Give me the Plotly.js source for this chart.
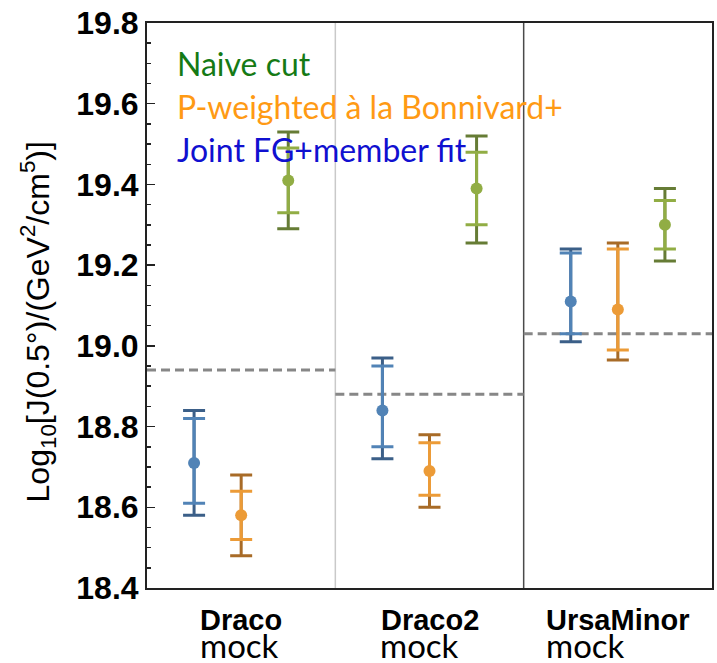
<!DOCTYPE html>
<html>
<head>
<meta charset="utf-8">
<script src="https://cdn.plot.ly/plotly-3.0.1.min.js"></script>
<style>
  html, body { margin: 0; padding: 0; background: #fff; }
  #chart { width: 717px; height: 663px; }
</style>
</head>
<body>
<div id="chart"></div>
<script>
// Mock galaxies, one column group each
const groups = ['Draco', 'Draco2', 'UrsaMinor'];
const groupSuffix = 'mock';

// True J-factor of each mock (dashed reference lines)
const trueJ = [18.94, 18.88, 19.03];

// Method names (legend text)
const methodNames = ['Naive cut', 'P-weighted à la Bonnivard+', 'Joint FG+member fit'];

// Joint FG+member fit: median, inner and outer intervals
const jointMed     = [18.71, 18.84, 19.11];
const jointInnerHi = [18.82, 18.95, 19.23];
const jointInnerLo = [18.61, 18.75, 19.03];
const jointOuterHi = [18.84, 18.97, 19.24];
const jointOuterLo = [18.58, 18.72, 19.01];

// P-weighted à la Bonnivard+
const pwMed     = [18.58, 18.69, 19.09];
const pwInnerHi = [18.64, 18.76, 19.24];
const pwInnerLo = [18.52, 18.63, 18.99];
const pwOuterHi = [18.68, 18.78, 19.255];
const pwOuterLo = [18.48, 18.60, 18.965];

// Naive cut
const naiveMed     = [19.41, 19.39, 19.30];
const naiveInnerHi = [19.49, 19.48, 19.36];
const naiveInnerLo = [19.33, 19.30, 19.24];
const naiveOuterHi = [19.53, 19.52, 19.39];
const naiveOuterLo = [19.29, 19.255, 19.21];

// Axis ticks
const yTickVals = [18.4, 18.6, 18.8, 19.0, 19.2, 19.4, 19.6, 19.8];

const series = [
  { med: jointMed, ihi: jointInnerHi, ilo: jointInnerLo, ohi: jointOuterHi, olo: jointOuterLo,
    offset: 0.25, light: '#5183b6', dark: '#3b5f88' },
  { med: pwMed, ihi: pwInnerHi, ilo: pwInnerLo, ohi: pwOuterHi, olo: pwOuterLo,
    offset: 0.50, light: '#ec9b37', dark: '#a86b27' },
  { med: naiveMed, ihi: naiveInnerHi, ilo: naiveInnerLo, ohi: naiveOuterHi, olo: naiveOuterLo,
    offset: 0.75, light: '#91ad44', dark: '#667c35' }
];

const traces = [];

// dashed true-value line spanning each group's column
groups.forEach((g, i) => {
  traces.push({
    x: [i, i + 1], y: [trueJ[i], trueJ[i]],
    mode: 'lines', type: 'scatter', showlegend: false, hoverinfo: 'skip',
    line: { color: '#878787', width: 3, dash: '9px,5px' }
  });
});

series.forEach(s => {
  const xs = groups.map((g, i) => i + s.offset);
  // outer interval (darker caps)
  traces.push({
    x: xs, y: s.med, type: 'scatter', mode: 'markers', showlegend: false,
    marker: { size: 1, color: 'rgba(0,0,0,0)' },
    error_y: {
      type: 'data', symmetric: false,
      array: s.ohi.map((v, i) => v - s.med[i]),
      arrayminus: s.olo.map((v, i) => s.med[i] - v),
      color: s.dark, thickness: 3, width: 11
    }
  });
  // inner interval plus median marker
  traces.push({
    x: xs, y: s.med, type: 'scatter', mode: 'markers', showlegend: false,
    marker: { size: 12, color: s.light },
    error_y: {
      type: 'data', symmetric: false,
      array: s.ihi.map((v, i) => v - s.med[i]),
      arrayminus: s.ilo.map((v, i) => s.med[i] - v),
      color: s.light, thickness: 3, width: 11
    }
  });
});

const legendColors = ['#157a15', '#ff9a14', '#1010d0'];
const legendY = [19.700, 19.593, 19.486];

const annotations = [];
methodNames.forEach((name, k) => {
  annotations.push({
    text: name, xref: 'x', yref: 'y', x: 0.150, y: legendY[k],
    xanchor: 'left', yanchor: 'middle', showarrow: false,
    font: { family: 'Lato, sans-serif', size: 32, color: legendColors[k] }
  });
});

// group labels under the axis: name centred on the column, "mock" left-aligned under it
const nameFont = { family: 'Liberation Sans, Arial, sans-serif', size: 29, weight: 'bold', color: '#000' };
const measureCtx = document.createElement('canvas').getContext('2d');
measureCtx.font = 'bold 29px "Liberation Sans", Arial, sans-serif';
groups.forEach((g, i) => {
  const w = measureCtx.measureText(g).width;
  annotations.push({
    text: g, xref: 'x', yref: 'paper', x: i + 0.5, y: -0.024,
    xanchor: 'center', yanchor: 'top', showarrow: false, font: nameFont
  });
  annotations.push({
    text: groupSuffix, xref: 'x', yref: 'paper', x: i + 0.5, xshift: -w / 2 - 2, y: -0.101,
    xanchor: 'left', yanchor: 'middle', showarrow: false,
    font: { family: 'Lato, sans-serif', size: 33, color: '#000' }
  });
});

// y-axis title
annotations.push({
  text: 'Log<sub>10</sub>[J(0.5°)/(GeV<sup>2</sup>/cm<sup>5</sup>)]',
  xref: 'paper', yref: 'paper', x: -0.193, y: 0.5, yshift: -16,
  xanchor: 'center', yanchor: 'middle', textangle: -90, showarrow: false,
  font: { family: 'Liberation Sans, Arial, sans-serif', size: 32, color: '#000' }
});

const minorTicks = { dtick: 0.05, tick0: 18.4, ticks: 'inside', ticklen: 4, tickwidth: 1.5, tickcolor: '#222', showgrid: false };

const layout = {
  width: 717, height: 663,
  margin: { l: 147, r: 5, t: 23, b: 75 },
  paper_bgcolor: '#fff', plot_bgcolor: '#fff',
  showlegend: false,
  xaxis: {
    range: [0, 3], showgrid: false, zeroline: false,
    showticklabels: false, ticks: '',
    showline: true, linecolor: '#222', linewidth: 2, mirror: true
  },
  yaxis: {
    range: [18.4, 19.8], tickvals: yTickVals, tickformat: '.1f',
    showgrid: false, zeroline: false,
    ticks: 'inside', ticklen: 8, tickwidth: 1.5, tickcolor: '#222',
    minor: minorTicks,
    showline: true, linecolor: '#222', linewidth: 2, mirror: true,
    tickfont: { family: 'Liberation Sans, Arial, sans-serif', size: 32, weight: 'bold', color: '#000' }
  },
  // right-hand frame ticks
  yaxis2: {
    overlaying: 'y', side: 'right', anchor: 'x',
    range: [18.4, 19.8], tickvals: yTickVals,
    showgrid: false, zeroline: false, showticklabels: false,
    ticks: 'inside', ticklen: 8, tickwidth: 1.5, tickcolor: '#222',
    minor: minorTicks,
    showline: false
  },
  shapes: [
    { type: 'line', xref: 'x', yref: 'paper', x0: 1, x1: 1, y0: 0, y1: 1,
      line: { color: '#c9c9c9', width: 1.5 }, layer: 'below' },
    { type: 'line', xref: 'x', yref: 'paper', x0: 2, x1: 2, y0: 0, y1: 1,
      line: { color: '#4a4a4a', width: 1.5 }, layer: 'below' }
  ],
  annotations: annotations
};

Plotly.newPlot('chart', traces, layout, { displayModeBar: false, staticPlot: true });
</script>
</body>
</html>
